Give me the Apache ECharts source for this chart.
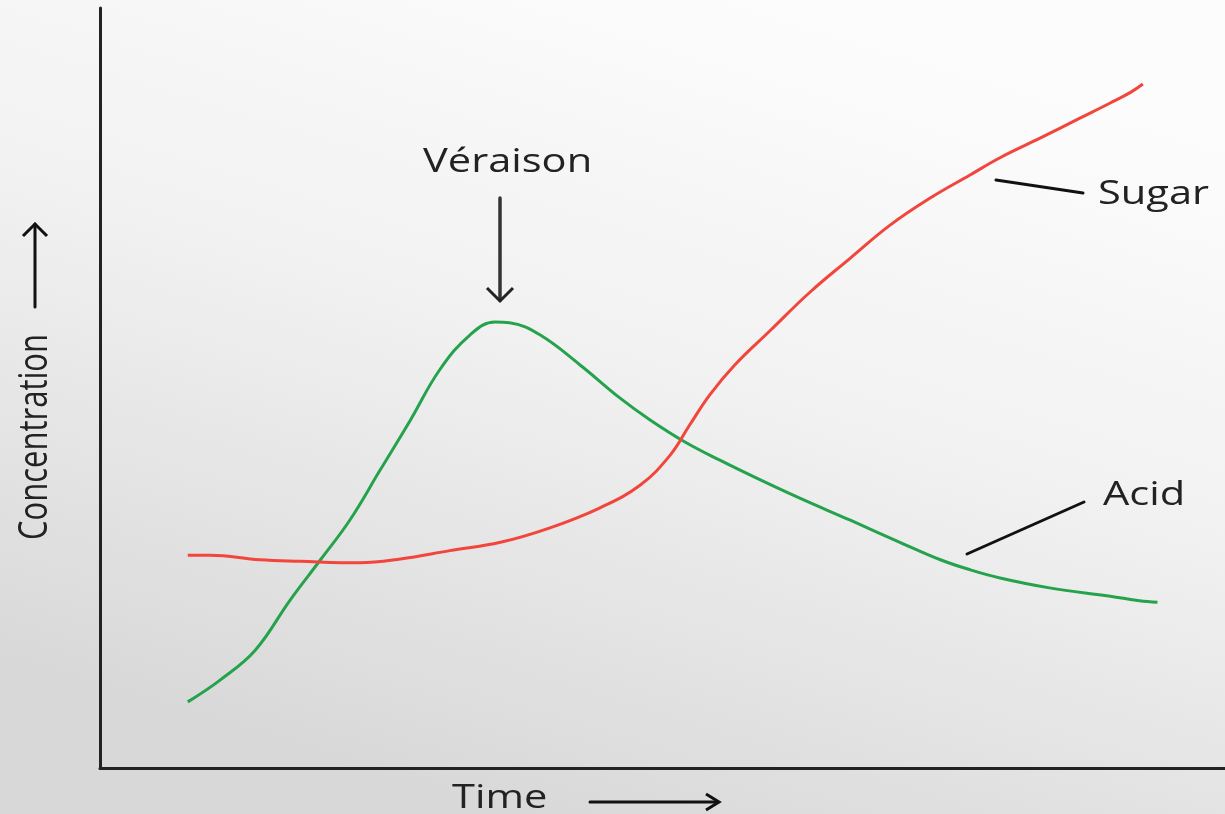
<!DOCTYPE html>
<html>
<head>
<meta charset="utf-8">
<script src="https://cdn.jsdelivr.net/npm/echarts@6/dist/echarts.min.js"></script>
<style>html,body{margin:0;padding:0;}#c{width:1225px;height:814px;}</style>
</head>
<body>
<div id="c"></div>
<script>
// Time (arbitrary units 0-100) and concentration (arbitrary units 0-100)
const acidTime = [7.8,10.7,13.8,16.9,19.6,22.2,24.9,27.6,30.2,32.9,35.1,36.4,39.1,42.7,46.2,48.9,52.0,55.1,58.7,62.2,66.7,71.1,74.7,77.3,80.0,84.4,89.8,92.4,94.0];
const acidValues = [8.7,11.6,15.5,22.1,27.4,32.6,39.2,45.8,52.4,57.0,58.7,58.6,57.0,53.0,48.7,45.8,42.9,40.5,37.9,35.5,32.6,29.7,27.4,26.1,25.0,23.7,22.6,22.0,21.8];
const sugarTime = [7.8,9.8,14.2,17.8,23.1,26.7,31.1,35.6,40.0,44.4,48.0,50.7,52.4,54.2,56.4,59.6,63.1,66.7,70.2,73.8,77.3,80.0,83.6,87.1,89.8,91.6,92.7];
const sugarValues = [28.0,28.0,27.4,27.2,27.0,27.5,28.6,29.7,31.6,34.2,37.2,41.2,45.1,49.1,53.0,57.6,62.6,67.1,71.4,75.0,78.0,80.3,82.9,85.5,87.5,88.9,90.0];
const labels = {veraison:'Véraison', sugar:'Sugar', acid:'Acid', x:'Time', y:'Concentration'};

const chart = echarts.init(document.getElementById('c'));
const ink = '#222';
const font = '"Open Sans", "Noto Sans", sans-serif';
function txt(t, x, y, opt) {
  return Object.assign({type:'text', x:x, y:y, z:50, scaleX:1.3,
    style:{text:t, fill:ink, font:'32px ' + font, align:'left', verticalAlign:'middle'}}, opt || {});
}
function line(x1,y1,x2,y2,w,c) {
  return {type:'line', z:50, shape:{x1:x1,y1:y1,x2:x2,y2:y2}, style:{stroke:c||'#333', lineWidth:w||3, lineCap:'round'}};
}
function poly(pts,w,c) {
  return {type:'polyline', z:50, shape:{points:pts}, style:{stroke:c||'#333', lineWidth:w||3, fill:null, lineJoin:'miter'}};
}
const option = {
  animation:false,
  grid:{left:100, right:0, top:8, bottom:46},
  xAxis:{type:'value', min:0, max:100, axisLine:{show:true, lineStyle:{color:ink, width:3}},
    axisTick:{show:false}, axisLabel:{show:false}, splitLine:{show:false}},
  yAxis:{type:'value', min:0, max:100, axisLine:{show:true, lineStyle:{color:ink, width:3}},
    axisTick:{show:false}, axisLabel:{show:false}, splitLine:{show:false}},
  series:[
    {name:'Acid', type:'line', smooth:0.4, showSymbol:false, symbol:'none',
      lineStyle:{color:'#25a24c', width:3}, data:acidTime.map((t,i)=>[t, acidValues[i]])},
    {name:'Sugar', type:'line', smooth:0.4, showSymbol:false, symbol:'none',
      lineStyle:{color:'#f2453b', width:3}, data:sugarTime.map((t,i)=>[t, sugarValues[i]])}
  ],
  graphic:[
    {type:'rect', z:-100, silent:true, shape:{x:0,y:0,width:1225,height:814},
      style:{fill:new echarts.graphic.LinearGradient(0.6,0,0.4,1,[{offset:0,color:'#fcfcfc'},{offset:0.45,color:'#f1f1f1'},{offset:1,color:'#d8d8d8'}])}},
    txt(labels.veraison, 423, 163),
    line(500,198,500,300,3.5,'#333'),
    poly([[487,288],[500,301],[513,288]],3,'#222'),
    txt(labels.sugar, 1098, 195),
    line(996,180,1083,193,3,'#111'),
    txt(labels.acid, 1103, 496),
    line(967,554,1084,502,3,'#111'),
    txt(labels.x, 452, 799),
    line(590,802,718,802,3,'#111'),
    poly([[706,794],[719,802],[706,810]],3,'#111'),
    {type:'text', x:36, y:437, z:50, rotation:Math.PI/2, scaleX:1, scaleY:1.3,
      style:{text:labels.y, fill:ink, font:'31px ' + font, align:'center', verticalAlign:'middle'}},
    line(35,224,35,307,3,'#111'),
    poly([[23,236],[35,224],[47,236]],3,'#111')
  ]
};
chart.setOption(option);
</script>
</body>
</html>
